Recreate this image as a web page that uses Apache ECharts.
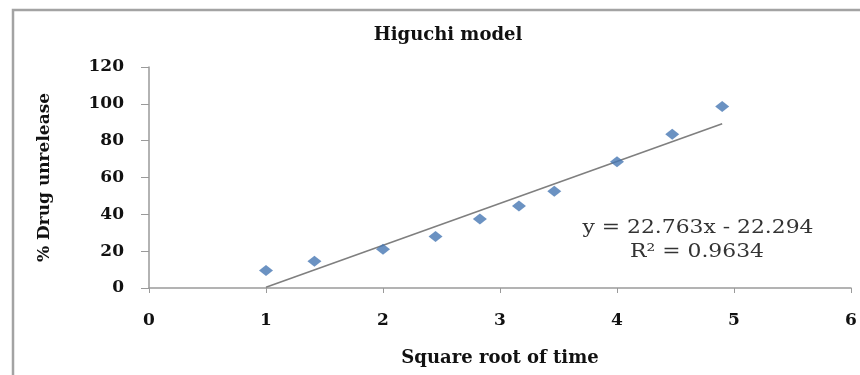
<!DOCTYPE html>
<html>
<head>
<meta charset="utf-8">
<script src="https://cdn.jsdelivr.net/npm/echarts@6/dist/echarts.min.js"></script>
<style>
html,body{margin:0;padding:0;background:#fff;}
#chart{width:860px;height:375px;}
</style>
</head>
<body>
<div id="chart"></div>
<script>
// Data
var sqrtTime = [1, 1.414, 2, 2.449, 2.828, 3.162, 3.464, 4, 4.472, 4.899];
var drugUnrelease = [9.5, 14.5, 21, 28, 37.5, 44.5, 52.5, 68.5, 83.5, 98.5];
var trendX = [1, 4.899];
var trendY = [0.47, 89.22];
var xTicks = [0, 1, 2, 3, 4, 5, 6];
var yTicks = [0, 20, 40, 60, 80, 100, 120];
var titleText = 'Higuchi model';
var xName = 'Square root of time';
var yName = '% Drug unrelease';
var eqLine1 = 'y = 22.763x - 22.294';
var eqLine2 = 'R\u00b2 = 0.9634';

var chart = echarts.init(document.getElementById('chart'));
var serif = '"DejaVu Serif", "Liberation Serif", serif';

var scatterData = sqrtTime.map(function (x, i) { return [x, drugUnrelease[i]]; });
var trendData = trendX.map(function (x, i) { return [x, trendY[i]]; });

chart.setOption({
  backgroundColor: '#ffffff',
  animation: false,
  title: {
    text: titleText,
    left: 443,
    textAlign: 'center',
    top: 21,
    textStyle: { fontFamily: serif, fontWeight: 'bold', fontSize: 18, color: '#111' }
  },
  grid: { left: 149, right: 9, top: 67, bottom: 87, containLabel: false },
  xAxis: {
    type: 'value',
    min: xTicks[0],
    max: xTicks[xTicks.length - 1],
    interval: xTicks[1] - xTicks[0],
    name: xName,
    nameLocation: 'middle',
    nameGap: 61,
    nameTextStyle: { fontFamily: serif, fontWeight: 'bold', fontSize: 18, color: '#111' },
    axisLine: { show: true, lineStyle: { color: '#9a9a9a', width: 1.5 } },
    axisTick: { show: true, length: 5, lineStyle: { color: '#9a9a9a' } },
    axisLabel: { margin: 24, fontFamily: serif, fontWeight: 'bold', fontSize: 17, color: '#111' },
    splitLine: { show: false }
  },
  yAxis: {
    type: 'value',
    min: yTicks[0],
    max: yTicks[yTicks.length - 1],
    interval: yTicks[1] - yTicks[0],
    name: yName,
    nameLocation: 'middle',
    nameGap: 96,
    nameRotate: 90,
    nameTextStyle: { fontFamily: serif, fontWeight: 'bold', fontSize: 17, color: '#111' },
    axisLine: { show: true, lineStyle: { color: '#9a9a9a', width: 1.5 } },
    axisTick: { show: true, length: 8, lineStyle: { color: '#9a9a9a' } },
    axisLabel: { margin: 25, fontFamily: serif, fontWeight: 'bold', fontSize: 17, color: '#111' },
    splitLine: { show: false }
  },
  series: [
    {
      type: 'line',
      data: trendData,
      showSymbol: false,
      symbol: 'none',
      lineStyle: { color: '#7f7f7f', width: 1.6 },
      z: 2
    },
    {
      type: 'scatter',
      data: scatterData,
      symbol: 'diamond',
      symbolSize: [14, 11],
      itemStyle: { color: '#4677b3' },
      z: 3
    }
  ],
  graphic: [
    {
      type: 'rect',
      shape: { x: 13, y: 10, width: 900, height: 400 },
      style: { fill: 'none', stroke: '#a3a3a3', lineWidth: 2.5 },
      silent: true
    },
    {
      type: 'text',
      x: 698, y: 228,
      scaleX: 1.15,
      style: { text: eqLine1, fontFamily: serif, fontSize: 19, fill: '#333', textAlign: 'center', textVerticalAlign: 'middle' }
    },
    {
      type: 'text',
      x: 697, y: 252,
      scaleX: 1.15,
      style: { text: eqLine2, fontFamily: serif, fontSize: 19, fill: '#333', textAlign: 'center', textVerticalAlign: 'middle' }
    }
  ]
});
</script>
</body>
</html>
